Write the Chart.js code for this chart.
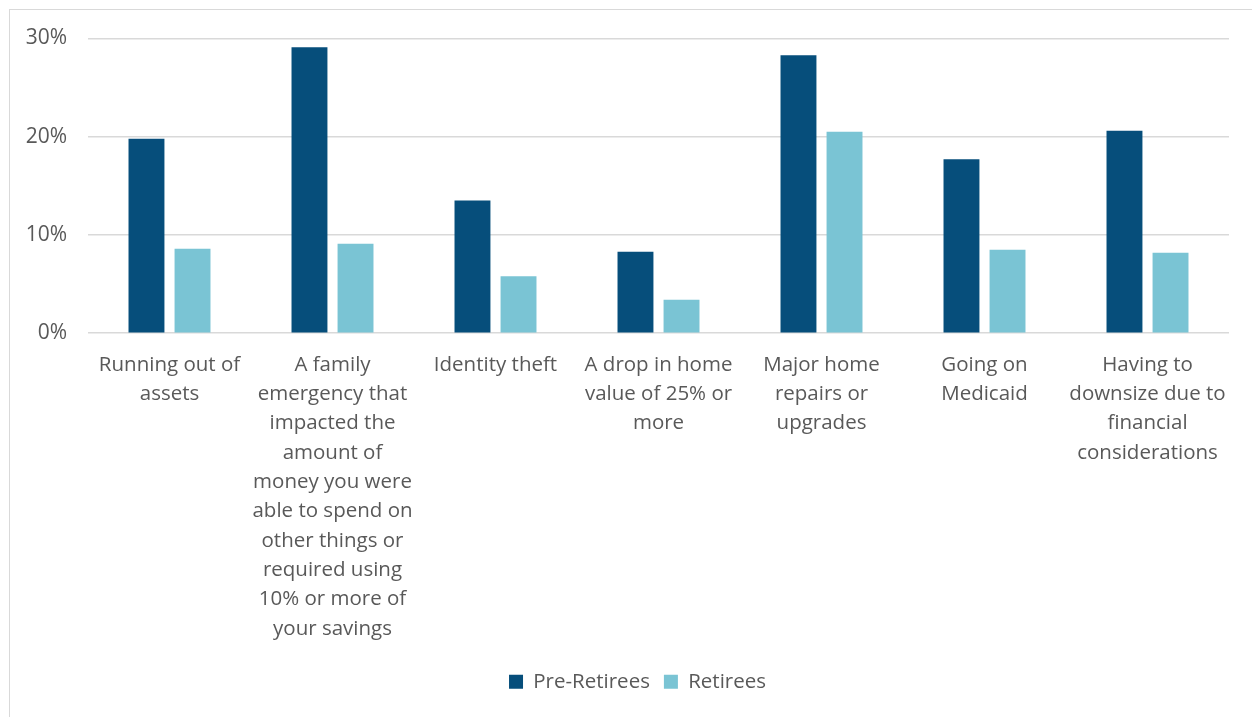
<!DOCTYPE html>
<html>
<head>
<meta charset="utf-8">
<script src="https://cdn.jsdelivr.net/npm/chart.js@4"></script>
<style>
    body { margin: 0; background: #fff; overflow: hidden; }
    #marco {
        position: absolute; left: 9px; top: 9px;
        width: 1243px; height: 708px; overflow: hidden;
        border-left: 1px solid #d9d9d9; border-top: 1px solid #d9d9d9;
    }
</style>
</head>
<body>
<div id="marco"><canvas id="grafico" width="1262" height="707"></canvas></div>
<script>
// Datos del gráfico
const categorias = [
    ["Running out of", "assets"],
    ["A family", "emergency that", "impacted the", "amount of", "money you were", "able to spend on", "other things or", "required using", "10% or more of", "your savings"],
    ["Identity theft"],
    ["A drop in home", "value of 25% or", "more"],
    ["Major home", "repairs or", "upgrades"],
    ["Going on", "Medicaid"],
    ["Having to", "downsize due to", "financial", "considerations"]
];
const preRetirees = [19.8, 29.1, 13.5, 8.3, 28.3, 17.7, 20.6];
const retirees = [8.6, 9.1, 5.8, 3.4, 20.5, 8.5, 8.2];
const ticksY = [0, 10, 20, 30];

const gris = '#595959';
Chart.defaults.font.family = "'Open Sans', sans-serif";
Chart.defaults.font.size = 20.5;
Chart.defaults.color = gris;

new Chart(document.getElementById('grafico'), {
    type: 'bar',
    data: {
        labels: categorias,
        datasets: [{
            label: 'Pre-Retirees',
            data: preRetirees,
            backgroundColor: '#064e7b',
            barPercentage: 0.78,
            categoryPercentage: 0.565
        }, {
            label: 'Retirees',
            data: retirees,
            backgroundColor: '#7ac4d4',
            barPercentage: 0.78,
            categoryPercentage: 0.565
        }]
    },
    options: {
        responsive: false,
        animation: false,
        layout: { padding: { top: 28.5, left: 0, right: 7, bottom: 15 } },
        plugins: {
            tooltip: { enabled: false },
            legend: {
                position: 'bottom',
                labels: { boxWidth: 14, boxHeight: 14, padding: 14, color: gris }
            }
        },
        scales: {
            x: {
                grid: { display: false },
                border: { display: false },
                ticks: {
                    maxRotation: 0, autoSkip: false, padding: 9,
                    font: { lineHeight: 1.43 }
                },
                afterFit: axis => { axis.height = 324.3; }
            },
            y: {
                min: 0, max: 30,
                afterBuildTicks: axis => { axis.ticks = ticksY.map(v => ({ value: v })); },
                grid: { color: '#d9d9d9', lineWidth: 1.5, tickLength: 17, tickColor: 'rgba(0,0,0,0)' },
                border: { display: false },
                ticks: { padding: 4, callback: v => v + '%', font: { size: 21 } },
                afterFit: axis => { axis.width = 78; }
            },
            // eje vacío a la derecha, solo reserva espacio
            derecha: {
                position: 'right',
                min: 0, max: 30,
                grid: { display: false },
                border: { display: false },
                ticks: { display: false },
                afterFit: axis => { axis.width = 36; }
            }
        }
    }
});
</script>
</body>
</html>
